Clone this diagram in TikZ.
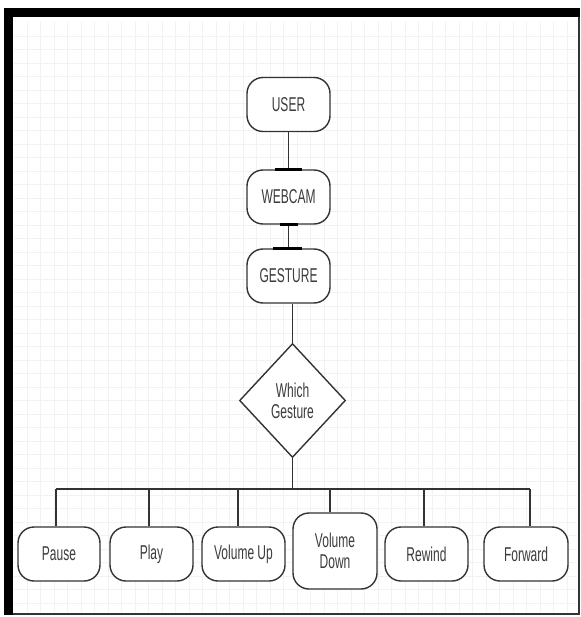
\documentclass[tikz,border=0pt]{standalone}
\usepackage{fontspec}
\setmainfont{Liberation Sans}
\newfontfamily\diagfont[FakeStretch=0.6]{Liberation Sans}
\usetikzlibrary{shapes.geometric,calc}
\definecolor{edgegray}{HTML}{333333}
\definecolor{textgray}{HTML}{3C3C3C}
\tikzset{
  box/.style={draw=edgegray, line width=1.4pt, rounded corners=16pt,
    minimum width=83pt, minimum height=54pt, inner sep=2pt,
    font=\diagfont\fontsize{20}{21}\selectfont, text=textgray, align=center, fill=white},
  decision/.style={draw=edgegray, line width=1.4pt, diamond, aspect=0.93,
    minimum width=106pt, minimum height=114pt, inner sep=0pt,
    font=\diagfont\fontsize{20}{21}\selectfont, text=textgray, align=center, fill=white},
  conn/.style={draw=edgegray, line width=1.2pt},
  selbar/.style={draw=black, line width=2.6pt},
  gridline/.style={draw=black!5, line width=0.5pt}
}
\begin{document}
\begin{tikzpicture}[x=1pt, y=-1pt]
\useasboundingbox (0,0) rectangle (580,617);
\fill[white] (0,0) rectangle (580,617);
% grid
\foreach \gx in {27,40.5,...,578} {\draw[gridline] (\gx,22) -- (\gx,612);}
\foreach \gy in {36,49.5,...,612} {\draw[gridline] (14,\gy) -- (577,\gy);}
% frame
\fill[black] (4,8) rectangle (580,17);
\fill[black] (4,8) rectangle (13,615);
\fill[black!80] (578,17) rectangle (579.6,614);
\fill[black!80] (13,612.6) rectangle (580,614.6);
% nodes
\node[box] (user) at (288.5,104.5) {USER};
\node[box] (web) at (288.5,197) {WEBCAM};
\node[box] (ges) at (288.5,276) {GESTURE};
\node[decision] (dia) at (292.5,400.5) {Which\\Gesture};
\node[box, minimum width=82pt] (pause) at (59,554) {Pause};
\node[box] (play) at (151.5,554) {Play};
\node[box] (vup) at (243.5,554) {Volume Up};
\node[box, minimum width=84pt, minimum height=76pt] (vdown) at (335,551) {Volume\\Down};
\node[box] (rew) at (426.5,554) {Rewind};
\node[box, minimum width=84pt] (fwd) at (526,554) {Forward};
% connectors
\draw[conn] (user.south) -- (web.north);
\draw[conn] (web.south) -- (ges.north);
\draw[conn] (dia.north |- ges.south) -- (dia.north);
\coordinate (bus) at (292.5,489);
\draw[conn] (dia.south) -- (bus);
\draw[conn] ($(pause.north |- bus)+(-3,0)$) -- ($(fwd.north |- bus)+(4,0)$);
\draw[conn] ($(pause.north |- bus)+(-3,0)$) -- ($(pause.north)+(-3,0)$);
\draw[conn] ($(play.north |- bus)+(-2.5,0)$) -- ($(play.north)+(-2.5,0)$);
\draw[conn] ($(vup.north |- bus)+(-5.5,0)$) -- ($(vup.north)+(-5.5,0)$);
\draw[conn] ($(vdown.north |- bus)+(-5,0)$) -- ($(vdown.north)+(-5,0)$);
\draw[conn] ($(rew.north |- bus)+(-2.5,0)$) -- ($(rew.north)+(-2.5,0)$);
\draw[conn] ($(fwd.north |- bus)+(4,0)$) -- ($(fwd.north)+(4,0)$);
% selection bars on the connector ends
\draw[selbar] ($(web.north)+(-13.5,0)$) -- ($(web.north)+(13.5,0)$);
\draw[selbar] ($(web.south)+(-8.5,0)$) -- ($(web.south)+(9.5,0)$);
\draw[selbar] ($(ges.north)+(-15.5,0)$) -- ($(ges.north)+(13.5,0)$);
\end{tikzpicture}
\end{document}
